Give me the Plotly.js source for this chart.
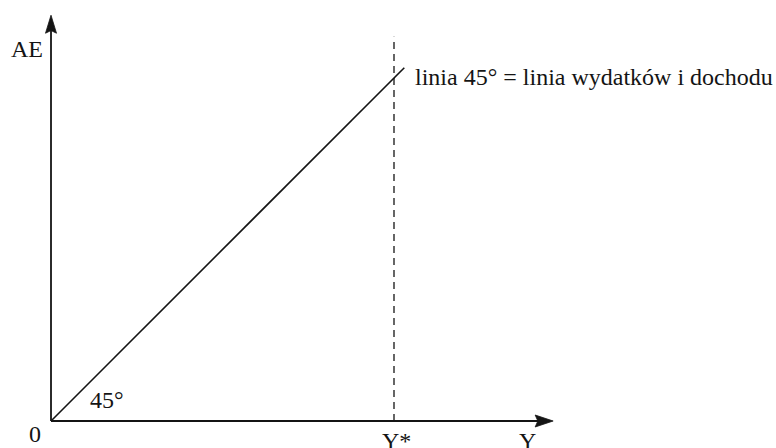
<!DOCTYPE html>
<html>
<head>
<meta charset="utf-8">
<script src="https://cdn.plot.ly/plotly-3.0.1.min.js"></script>
<style>html,body{margin:0;padding:0;background:#fff;}#chart{width:776px;height:448px;}</style>
</head>
<body>
<div id="chart"></div>
<script>
// Model values (units: income/expenditure, Y* = 100)
const yStar = 100;            // equilibrium income Y*
const lineEnd = [0, 103];     // 45° line runs from origin to this value
const xAxisEnd = 146.4;       // end of the horizontal (Y) axis
const yAxisEnd = 118.3;       // end of the vertical (AE) axis
const dashTop = 112;          // top of the dashed line at Y*
const axisLabels = ["AE", "Y", "0"];
const markLabels = ["Y*", "45°", "linia 45° = linia wydatków i dochodu"];

const pxPerUnit = 3.43;
const u = px => px / pxPerUnit;
const ink = "#141414";
const font = {family: "'Liberation Serif', 'Times New Roman', serif", size: 24, color: ink};

function head(tipX, tipY, dir, len, half) {
  // filled arrowhead with a slight notch, in data units
  const L = u(len), H = u(half), N = u(len * 0.15);
  if (dir === "right") {
    return {x: [tipX, tipX - L, tipX - L + N, tipX - L, tipX], y: [0, H, 0, -H, 0]};
  }
  return {x: [0, H, 0, -H, 0], y: [tipY, tipY - L, tipY - L + N, tipY - L, tipY]};
}
const hx = head(xAxisEnd, 0, "right", 18, 6);
const hy = head(0, yAxisEnd, "up", 18, 5.5);

const base = {mode: "lines", hoverinfo: "skip", showlegend: false};
const data = [
  Object.assign({}, base, {x: [0, xAxisEnd - u(12)], y: [0, 0], line: {color: ink, width: 1.8}}),
  Object.assign({}, base, {x: [0, 0], y: [0, yAxisEnd - u(12)], line: {color: ink, width: 1.8}}),
  Object.assign({}, base, {x: lineEnd, y: lineEnd, line: {color: ink, width: 1.6}}),
  Object.assign({}, base, {x: [yStar, yStar], y: [0, dashTop], line: {color: ink, width: 1.3, dash: "7px,5px"}}),
  Object.assign({}, base, {x: hx.x, y: hx.y, fill: "toself", fillcolor: ink, line: {color: ink, width: 0.8}}),
  Object.assign({}, base, {x: hy.x, y: hy.y, fill: "toself", fillcolor: ink, line: {color: ink, width: 0.8}})
];

const ann = (text, x, y, xa) => ({text, x, y, xref: "x", yref: "y", showarrow: false,
  xanchor: xa || "center", yanchor: "middle", font});
const annotations = [
  ann(axisLabels[0], u(27 - 51), u(421 - 49)),
  ann(axisLabels[1], xAxisEnd - u(553 - 527.5), u(421 - 441)),
  ann(axisLabels[2], u(35 - 51), u(421 - 434)),
  ann(markLabels[0], yStar + u(2.5), u(421 - 441)),
  ann(markLabels[1], u(107 - 51), u(421 - 400)),
  ann(markLabels[2], lineEnd[1] + u(9), lineEnd[1] - u(9), "left")
];

const ax = {showgrid: false, zeroline: false, showticklabels: false, showline: false, ticks: "", fixedrange: true};
const layout = {
  width: 776, height: 448,
  margin: {l: 0, r: 0, t: 0, b: 0, pad: 0},
  paper_bgcolor: "#fff", plot_bgcolor: "#fff",
  xaxis: Object.assign({}, ax, {range: [u(-51), u(725)]}),
  yaxis: Object.assign({}, ax, {range: [u(-27), u(421)]}),
  annotations
};
Plotly.newPlot("chart", data, layout, {staticPlot: true, displayModeBar: false});
</script>
</body>
</html>
